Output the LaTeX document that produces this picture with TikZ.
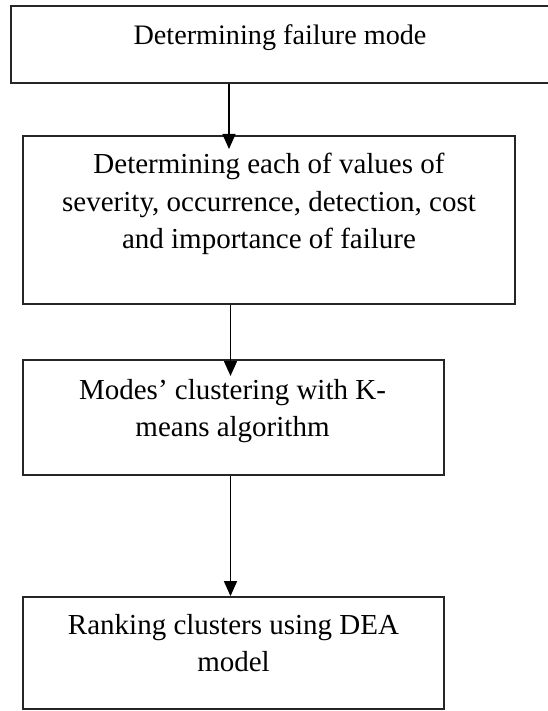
\documentclass[tikz,border=0pt]{standalone}
\usepackage{fontspec}
\setmainfont{Liberation Serif}
\usetikzlibrary{arrows.meta}
\begin{document}
\begin{tikzpicture}[x=1pt,y=-1pt,
  stepbox/.style={draw=black!85, line width=1.8pt, rectangle, inner sep=0pt},
  lbl/.style={align=center, inner sep=0pt, font=\fontsize{29}{37.5}\selectfont},
  arr/.style={draw=black, line width=1.6pt, -{Triangle[length=15pt,width=13pt]}}
]
\path[use as bounding box] (0,0) rectangle (547,711);

\node[stepbox, minimum width=538pt, minimum height=77pt] (b1) at (280,44.5) {};
\node[stepbox, minimum width=492pt, minimum height=168pt] (b2) at (269,220) {};
\node[stepbox, minimum width=421pt, minimum height=115pt] (b3) at (233.5,417.5) {};
\node[stepbox, minimum width=421pt, minimum height=112pt] (b4) at (233.5,653) {};

\node[lbl, anchor=base, font=\fontsize{28.2}{37.5}\selectfont] (t1) at (280,45) {Determining failure mode};
\node[lbl, anchor=north] (t2) at (269,153) {Determining each of values of\\severity, occurrence, detection, cost\\and importance of failure};
\node[lbl, anchor=north] (t3) at (232.5,379) {Modes’ clustering with K-\\means algorithm};
\node[lbl, anchor=north] (t4) at (233.5,614) {Ranking clusters using DEA\\model};

\coordinate (a1s) at (229,83);
\coordinate (a1e) at (229,149);
\coordinate (a2s) at (230.5,304);
\coordinate (a2e) at (230.5,376);
\coordinate (a3s) at (230.5,475);
\coordinate (a3e) at (230.5,597);
\draw[arr] (b1.south -| a1s) -- (a1e);
\draw[arr] (b2.south -| a2s) -- (a2e);
\draw[arr] (b3.south -| a3s) -- (b4.north -| a3e);
\end{tikzpicture}
\end{document}
